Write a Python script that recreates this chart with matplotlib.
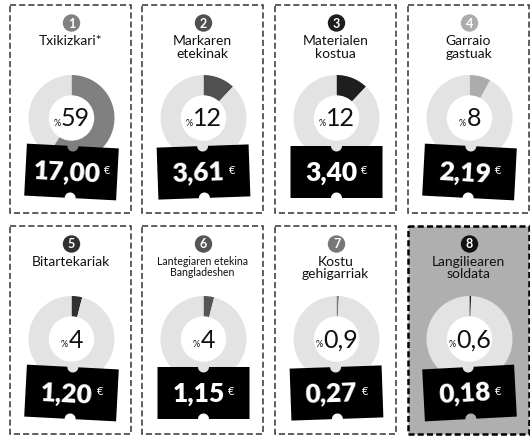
import numpy as np
import matplotlib
matplotlib.use("Agg")
import matplotlib.pyplot as plt
from matplotlib.patches import Rectangle, Circle, Polygon
from matplotlib.transforms import Affine2D

plt.rcParams['font.family'] = ['Lato', 'DejaVu Sans']

# data
titles = ["Txikizkari*", "Markaren\netekinak", "Materialen\nkostua", "Garraio\ngastuak",
          "Bitartekariak", "Lantegiaren etekina\nBangladeshen", "Kostu\ngehigarriak",
          "Langiliearen\nsoldata"]
shares = [59, 12, 12, 8, 4, 4, 0.9, 0.6]
share_labels = ["59", "12", "12", "8", "4", "4", "0,9", "0,6"]
prices = ["17,00", "3,61", "3,40", "2,19", "1,20", "1,15", "0,27", "0,18"]

# styling per panel
accent = ["#808080", "#505050", "#1e1e1e", "#acacac", "#303030", "#555555", "#777777", "#111111"]
tag_rot = [-3, 2, 0, -3, -3, 0, 2, 3]
ring_bg = "#e3e3e3"

W, H = 530, 437
fig = plt.figure(figsize=(W / 100, H / 100), dpi=100)
ax = fig.add_axes([0, 0, 1, 1])

pw, ph = 121, 208
lefts = [10, 142, 275, 408]
tops = [5, 226]


def tag_shape(cx, cy, rot, w=92, h=52, r=5.5):
    pts = [(-w / 2, -h / 2)]
    t = np.linspace(np.pi, 0, 20)
    pts += list(zip(r * np.cos(t), -h / 2 + r * np.sin(t)))
    pts += [(w / 2, -h / 2), (w / 2, h / 2)]
    t = np.linspace(0, -np.pi, 20)
    pts += list(zip(r * np.cos(t), h / 2 + r * np.sin(t)))
    pts += [(-w / 2, h / 2)]
    tr = Affine2D().rotate_deg(-rot).translate(cx, cy)
    return Polygon(tr.transform(np.array(pts)), closed=True, facecolor="black",
                   edgecolor="none", zorder=5)


for i in range(8):
    x0 = lefts[i % 4]
    y0 = tops[i // 4]
    cx = x0 + pw / 2
    last = i == 7

    ax.add_patch(Rectangle((x0, y0), pw, ph,
                           facecolor="#afafaf" if last else "white",
                           edgecolor="black" if last else "#333333",
                           lw=1.8 if last else 1.1,
                           linestyle=(0, (2.4, 1.3)) if last else (0, (4, 2)),
                           zorder=1))

    # number badge
    ax.add_patch(Circle((cx + 1, y0 + 18), 8, color=accent[i], zorder=3))
    ax.text(cx + 1, y0 + 18.5, str(i + 1), color="white", fontsize=9,
            fontweight="bold", ha="center", va="center", zorder=4)

    # title
    small = max(len(s) for s in titles[i].split("\n")) > 16
    ax.text(cx, y0 + 30, titles[i], fontsize=7.6 if small else 10, ha="center",
            va="top", linespacing=1.05, color="#111111", zorder=4)

    # donut
    dcx, dcy = cx + 1, y0 + 113
    ax.pie([shares[i], 100 - shares[i]], colors=[accent[i], ring_bg],
           startangle=-90, counterclock=True, center=(dcx, dcy), radius=43,
           wedgeprops=dict(width=21, linewidth=0), frame=True)
    ax.add_patch(Circle((dcx, dcy), 22, color="white", zorder=2))
    num = ax.text(dcx + 4, dcy + 1, share_labels[i], fontsize=18, fontweight="normal",
                  ha="center", va="center", color="#111111", zorder=4)
    ax.annotate("%", xy=(0, 0.12), xycoords=num, xytext=(-0.3, 0),
                textcoords="offset points", fontsize=6.5, ha="right", va="bottom",
                color="#111111", zorder=4)

    # price tag
    tcx, tcy = cx + 1, y0 + 167
    ax.add_patch(tag_shape(tcx, tcy, tag_rot[i]))
    pr = ax.text(tcx - 5, tcy + 1, prices[i], fontsize=19, fontweight="heavy",
                 color="white", ha="center", va="center", rotation=tag_rot[i],
                 rotation_mode="anchor", zorder=6)
    ax.annotate("€", xy=(1, 0.6), xycoords=pr, xytext=(2.5, 0),
                textcoords="offset points", fontsize=8, color="white",
                ha="left", va="center", zorder=6)

ax.set_xlim(0, W)
ax.set_ylim(H, 0)
ax.set_aspect("auto")
ax.axis("off")
fig.savefig("out.png", dpi=100, facecolor="white")
